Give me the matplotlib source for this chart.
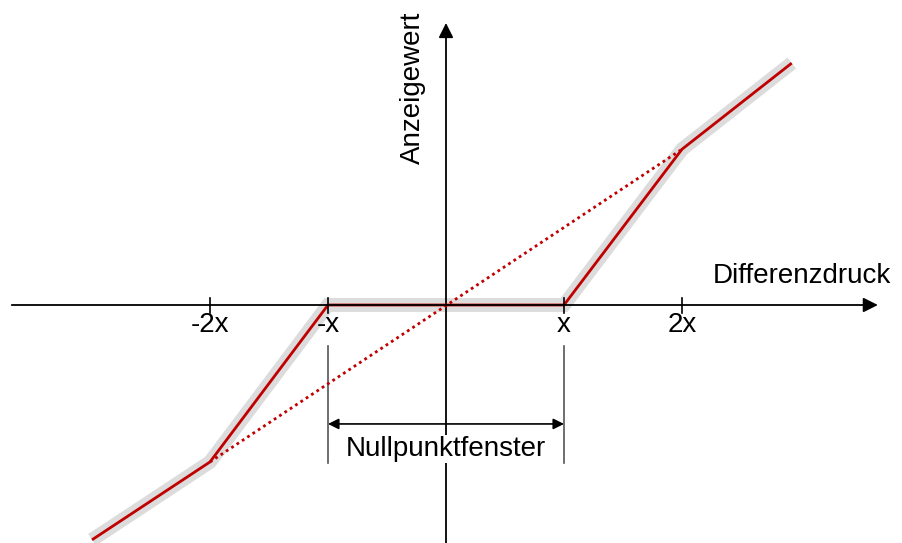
import numpy as np
import matplotlib.pyplot as plt

# characteristic (in units of x)
curve_x = [-3.0, -2.0, -1.0, 1.0, 2.0, 2.93]
curve_y = [-1.99, -1.33, 0.0, 0.0, 1.32, 2.05]
ideal_x = [-2.0, 2.0]
ideal_y = [-1.33, 1.32]
tick_pos = [-2, -1, 1, 2]
tick_labels = ['-2x', '-x', 'x', '2x']

plt.rcParams['font.family'] = ['Liberation Sans', 'DejaVu Sans']

fig = plt.figure(figsize=(9.03, 5.43), dpi=100)
ax = fig.add_axes([0, 0, 1, 1])
ax.set_xlim(-446 / 118, 457 / 118)
ax.set_ylim(-238 / 118, 305 / 118)
ax.axis('off')

# gray band behind the curve
ax.plot(curve_x, curve_y, color='#dcdcdc', lw=10, solid_capstyle='butt',
        solid_joinstyle='miter', zorder=1)
ax.plot(curve_x, curve_y, color='#c00000', lw=2.0, solid_capstyle='butt', zorder=3)
ax.plot(ideal_x, ideal_y, color='#c00000', lw=2.0, ls=(0, (1, 1.3)), zorder=3)

# axes with arrows
ax.annotate('', xy=(3.66, 0), xytext=(-3.68, 0),
            arrowprops=dict(arrowstyle='-|>', color='black', lw=1.3,
                            mutation_scale=22, shrinkA=0, shrinkB=0), zorder=4)
ax.annotate('', xy=(0, 2.39), xytext=(0, -2.05),
            arrowprops=dict(arrowstyle='-|>', color='black', lw=1.3,
                            mutation_scale=22, shrinkA=0, shrinkB=0), zorder=2)

for p, lab in zip(tick_pos, tick_labels):
    ax.plot([p, p], [0.06, -0.07], color='black', lw=1.2, zorder=4)
    ax.text(p, -0.23, lab, ha='center', va='baseline', fontsize=20)

ax.text(3.02, 0.186, 'Differenzdruck', ha='center', va='baseline', fontsize=20)
ax.text(-0.28, 1.84, 'Anzeigewert', ha='center', va='center', rotation=90, fontsize=20)

# Nullpunktfenster dimension
for p in [-1, 1]:
    ax.plot([p, p], [-0.35, -1.34], color='#555555', lw=1.2, zorder=2)
ax.annotate('', xy=(1, -1.008), xytext=(-1, -1.008),
            arrowprops=dict(arrowstyle='<|-|>', color='black', lw=1.2,
                            mutation_scale=16, shrinkA=0, shrinkB=0), zorder=3)
ax.text(0, -1.28, 'Nullpunktfenster', ha='center', va='baseline', fontsize=20,
        bbox=dict(facecolor='white', edgecolor='none', pad=1), zorder=5)

fig.savefig('out.png', dpi=100)
